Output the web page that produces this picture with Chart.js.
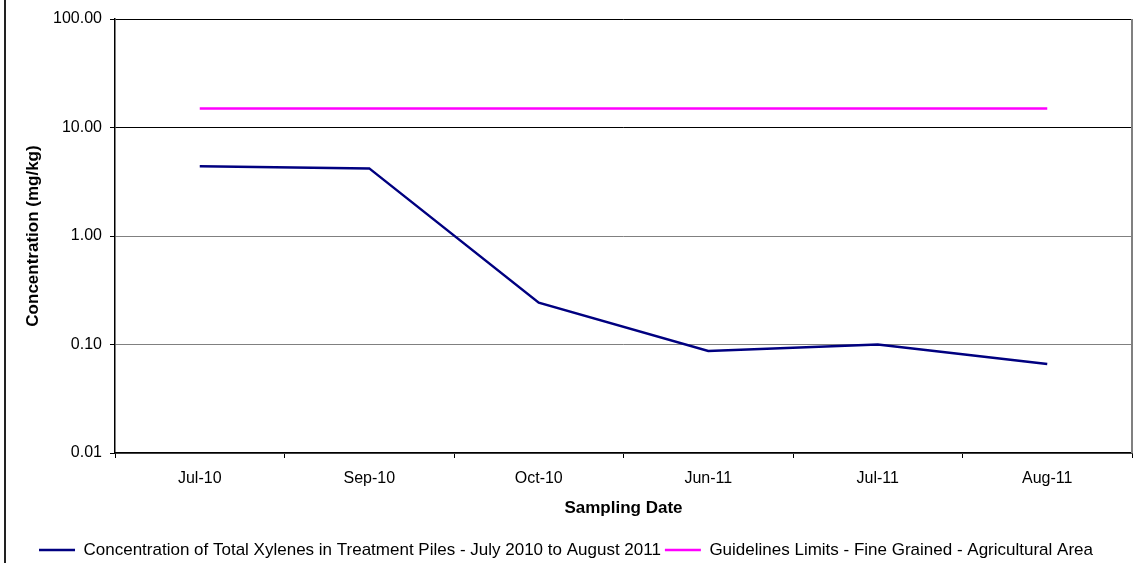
<!DOCTYPE html>
<html>
<head>
<meta charset="utf-8">
<script src="https://cdn.jsdelivr.net/npm/chart.js@4.4.1/dist/chart.umd.min.js"></script>
<style>
  html, body { margin: 0; padding: 0; background: #fff; }
  #wrap { position: relative; width: 1135px; height: 563px; }
</style>
</head>
<body>
<div id="wrap"><canvas id="xyleneChart" width="1135" height="563"></canvas></div>
<script>
// Sampling dates and concentrations (mg/kg)
var samplingDates = ['Jul-10', 'Sep-10', 'Oct-10', 'Jun-11', 'Jul-11', 'Aug-11'];
var xyleneConc = [4.4, 4.2, 0.243, 0.087, 0.10, 0.066];
var guidelineLimit = [15, 15, 15, 15, 15, 15];
var yTicks = [0.01, 0.1, 1, 10, 100];

var FONT = '"Liberation Sans", Arial, sans-serif';

// outer frame line on the left and grey plot border on the right
var frame = {
    id: 'frame',
    beforeDraw: function (chart) {
        var c = chart.ctx;
        c.save();
        c.fillStyle = '#fff';
        c.fillRect(0, 0, chart.width, chart.height);
        c.strokeStyle = '#222';
        c.lineWidth = 2;
        c.beginPath();
        c.moveTo(5, 0);
        c.lineTo(5, chart.height);
        c.stroke();
        c.restore();
    },
    afterDatasetsDraw: function (chart) {
        var a = chart.chartArea, c = chart.ctx;
        c.save();
        c.strokeStyle = '#808080';
        c.lineWidth = 2;
        c.beginPath();
        c.moveTo(a.right, a.top);
        c.lineTo(a.right, a.bottom);
        c.stroke();
        c.restore();
    }
};

new Chart(document.getElementById('xyleneChart').getContext('2d'), {
    type: 'line',
    data: {
        labels: samplingDates,
        datasets: [
            { label: 'Concentration of Total Xylenes in Treatment Piles - July 2010 to August 2011', data: xyleneConc, borderColor: '#000080', backgroundColor: '#000080', borderWidth: 2.5, pointRadius: 0, tension: 0 },
            { label: 'Guidelines Limits - Fine Grained - Agricultural Area', data: guidelineLimit, borderColor: '#ff00ff', backgroundColor: '#ff00ff', borderWidth: 2.5, pointRadius: 0, tension: 0 }
        ]
    },
    options: {
        responsive: false, animation: false,
        layout: { padding: { left: 0, right: 3, top: 19, bottom: -5.5 } },
        plugins: {
            tooltip: { enabled: false },
            legend: {
                position: 'bottom',
                labels: { usePointStyle: true, pointStyle: 'line', pointStyleWidth: 36, padding: 4, color: '#000', font: { family: FONT, size: 17 } }
            }
        },
        scales: {
            x: {
                type: 'category', offset: true,
                grid: { offset: true, drawOnChartArea: false, drawTicks: true, tickLength: 5, color: '#000', tickColor: '#000' },
                border: { color: '#000', width: 1.5 },
                ticks: { color: '#000', padding: 10.5, maxRotation: 0, font: { family: FONT, size: 16 } },
                title: { display: true, text: 'Sampling Date', color: '#000', padding: { top: 0, bottom: 19 }, font: { family: FONT, size: 17, weight: 'bold' } },
                afterFit: function (s) { s.height = 84.5; }
            },
            y: {
                type: 'logarithmic', min: 0.01, max: 100,
                afterBuildTicks: function (s) { s.ticks = yTicks.map(function (v) { return { value: v }; }); },
                grid: {
                    tickLength: 5,
                    color: function (ctx) { return ctx.tick && ctx.tick.value >= 10 ? '#000' : '#808080'; },
                    tickColor: '#000'
                },
                border: { color: '#000', width: 1.5 },
                ticks: { color: '#000', padding: 8, font: { family: FONT, size: 16 }, callback: function (v) { return Number(v).toFixed(2); } },
                title: { display: true, text: 'Concentration (mg/kg)', color: '#000', padding: { top: 23, bottom: 0 }, font: { family: FONT, size: 17, weight: 'bold' } },
                afterFit: function (s) { s.width = 115; }
            }
        }
    },
    plugins: [frame]
});
</script>
</body>
</html>
